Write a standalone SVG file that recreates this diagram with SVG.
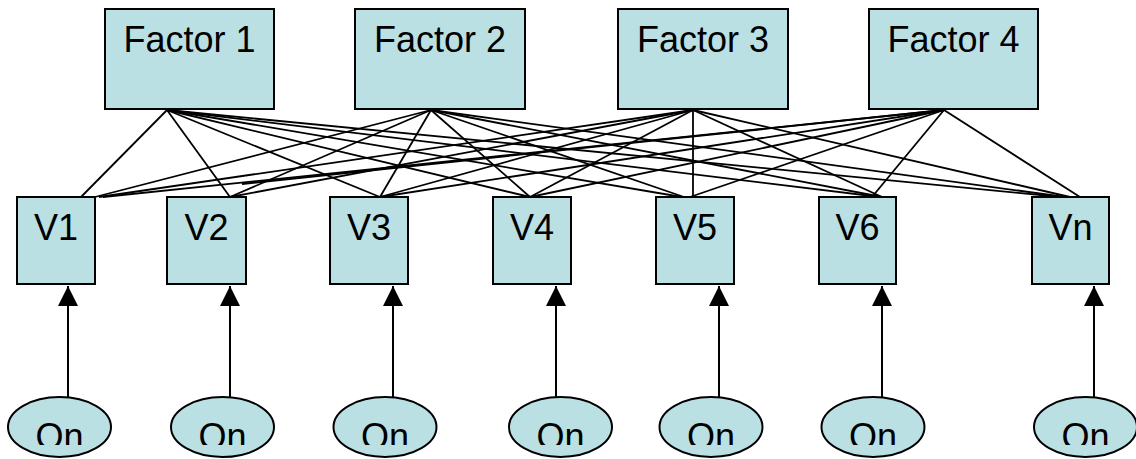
<svg xmlns="http://www.w3.org/2000/svg" width="1136" height="459" viewBox="0 0 1136 459">
<defs>
<style>
.box{fill:#BBE0E3;stroke:#000;stroke-width:2}
.t{font-family:"Liberation Sans",Arial,sans-serif;font-size:36px;fill:#000;text-anchor:middle}
.c line{stroke:#000;stroke-width:1.8}
.a line{stroke:#000;stroke-width:2}
</style>
<marker id="arr" markerUnits="userSpaceOnUse" markerWidth="20" markerHeight="20" refX="20" refY="10" orient="auto" viewBox="0 0 20 20">
<path d="M0,0 L20,10 L0,20 z" fill="#000"/>
</marker>
<clipPath id="qclip" clipPathUnits="userSpaceOnUse"><rect x="0" y="380" width="1136" height="65"/></clipPath>
</defs>
<rect width="1136" height="459" fill="#fff"/>
<g id="connectors">
<g class="c">
<line x1="167" y1="110" x2="81" y2="197"/>
<line x1="167" y1="110" x2="230" y2="197"/>
<line x1="167" y1="110" x2="380" y2="197"/>
<line x1="167" y1="110" x2="530" y2="197"/>
<line x1="167" y1="110" x2="682" y2="197"/>
<line x1="167" y1="110" x2="880" y2="197"/>
<line x1="167" y1="110" x2="1060" y2="197"/>
<line x1="431" y1="110" x2="95" y2="197"/>
<line x1="431" y1="110" x2="230" y2="197"/>
<line x1="431" y1="110" x2="380" y2="197"/>
<line x1="431" y1="110" x2="530" y2="197"/>
<line x1="431" y1="110" x2="684" y2="197"/>
<line x1="431" y1="110" x2="882" y2="197"/>
<line x1="431" y1="110" x2="1065" y2="197"/>
<line x1="693" y1="110" x2="99" y2="197"/>
<line x1="693" y1="110" x2="230" y2="197"/>
<line x1="693" y1="110" x2="380" y2="197"/>
<line x1="693" y1="110" x2="530" y2="197"/>
<line x1="693" y1="110" x2="693" y2="197"/>
<line x1="693" y1="110" x2="882" y2="197"/>
<line x1="693" y1="110" x2="1070" y2="197"/>
<line x1="944" y1="110" x2="103" y2="197"/>
<line x1="944" y1="110" x2="242" y2="184"/>
<line x1="944" y1="110" x2="380" y2="197"/>
<line x1="944" y1="110" x2="530" y2="197"/>
<line x1="944" y1="110" x2="690" y2="197"/>
<line x1="944" y1="110" x2="872" y2="197"/>
<line x1="944" y1="110" x2="1080" y2="197"/>
</g>
<g class="a">
<line x1="68" y1="397" x2="68" y2="286" marker-end="url(#arr)"/>
<line x1="230" y1="397" x2="230" y2="286" marker-end="url(#arr)"/>
<line x1="393" y1="397" x2="393" y2="286" marker-end="url(#arr)"/>
<line x1="556" y1="397" x2="556" y2="286" marker-end="url(#arr)"/>
<line x1="719" y1="397" x2="719" y2="286" marker-end="url(#arr)"/>
<line x1="882" y1="397" x2="882" y2="286" marker-end="url(#arr)"/>
<line x1="1094" y1="397" x2="1094" y2="286" marker-end="url(#arr)"/>
</g>
</g>
<g id="factor1"><rect class="box" x="105" y="9" width="169" height="100"/><text class="t" x="189.5" y="52">Factor 1</text></g>
<g id="factor2"><rect class="box" x="355" y="9" width="170" height="100"/><text class="t" x="440" y="52">Factor 2</text></g>
<g id="factor3"><rect class="box" x="618" y="9" width="170" height="100"/><text class="t" x="703" y="52">Factor 3</text></g>
<g id="factor4"><rect class="box" x="869" y="9" width="169" height="100"/><text class="t" x="953.5" y="52">Factor 4</text></g>
<g id="v1"><rect class="box" x="17" y="197" width="78" height="87"/><text class="t" x="56" y="240">V1</text></g>
<g id="v2"><rect class="box" x="167" y="197" width="79" height="87"/><text class="t" x="206.5" y="240">V2</text></g>
<g id="v3"><rect class="box" x="330" y="197" width="78" height="87"/><text class="t" x="369" y="240">V3</text></g>
<g id="v4"><rect class="box" x="493" y="197" width="78" height="87"/><text class="t" x="532" y="240">V4</text></g>
<g id="v5"><rect class="box" x="656" y="197" width="78" height="87"/><text class="t" x="695" y="240">V5</text></g>
<g id="v6"><rect class="box" x="819" y="197" width="77" height="87"/><text class="t" x="857.5" y="240">V6</text></g>
<g id="vn"><rect class="box" x="1032" y="197" width="77" height="87"/><text class="t" x="1070.5" y="240">Vn</text></g>
<g id="q1"><ellipse class="box" cx="59.5" cy="427" rx="51.5" ry="30"/><text class="t" x="59.5" y="449" clip-path="url(#qclip)">Qn</text></g>
<g id="q2"><ellipse class="box" cx="222.5" cy="427" rx="51.5" ry="30"/><text class="t" x="222.5" y="449" clip-path="url(#qclip)">Qn</text></g>
<g id="q3"><ellipse class="box" cx="385" cy="427" rx="51.5" ry="30"/><text class="t" x="385" y="449" clip-path="url(#qclip)">Qn</text></g>
<g id="q4"><ellipse class="box" cx="560.5" cy="427" rx="51.5" ry="30"/><text class="t" x="560.5" y="449" clip-path="url(#qclip)">Qn</text></g>
<g id="q5"><ellipse class="box" cx="711" cy="427" rx="51.5" ry="30"/><text class="t" x="711" y="449" clip-path="url(#qclip)">Qn</text></g>
<g id="q6"><ellipse class="box" cx="873" cy="427" rx="51.5" ry="30"/><text class="t" x="873" y="449" clip-path="url(#qclip)">Qn</text></g>
<g id="qn"><ellipse class="box" cx="1085.5" cy="427" rx="51.5" ry="30"/><text class="t" x="1085.5" y="449" clip-path="url(#qclip)">Qn</text></g>
</svg>
